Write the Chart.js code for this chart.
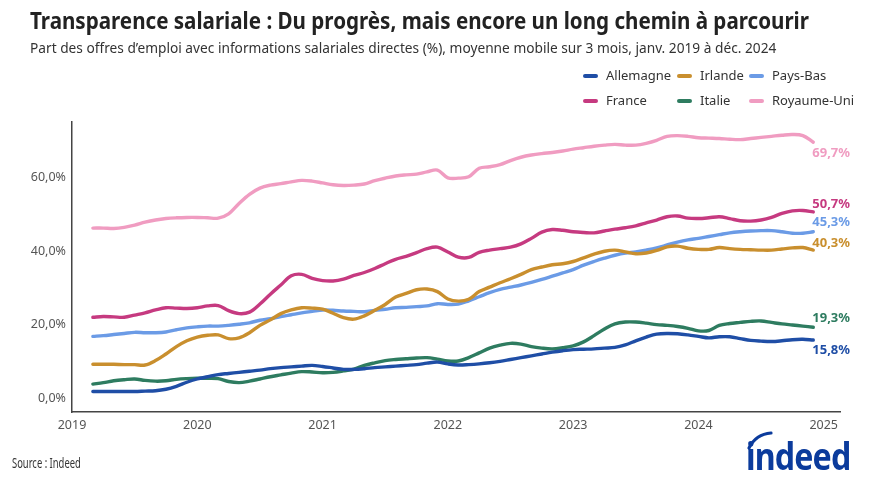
<!DOCTYPE html>
<html>
<head>
<meta charset="utf-8">
<script src="https://cdn.jsdelivr.net/npm/chart.js@4.4.1/dist/chart.umd.min.js"></script>
<style>
html,body{margin:0;padding:0;background:#fff;width:883px;height:494px;overflow:hidden;font-family:"Noto Sans",sans-serif;}
#wrap{position:relative;width:883px;height:494px;}
canvas#c{position:absolute;left:0;top:0;}
.fit{position:absolute;white-space:nowrap;transform-origin:left top;}
#title{left:30px;top:8px;font-size:24px;line-height:24px;font-weight:700;color:#222;}
#sub{left:30px;top:40px;font-size:14.5px;line-height:14.5px;color:#333;}
#source{left:12px;top:456px;font-size:13.5px;line-height:15px;color:#333;}
#logo{left:746px;top:436px;font-size:38px;line-height:38px;font-weight:700;color:#0b3b9c;letter-spacing:-1px;}
.lg{position:absolute;height:16px;line-height:16px;font-size:13px;color:#333;white-space:nowrap;}
.sw{position:absolute;width:15px;height:4px;border-radius:2px;}
#arc{position:absolute;left:740px;top:428px;}
</style>
</head>
<body>
<div id="wrap">
  <canvas id="c" width="883" height="494"></canvas>
  <div id="title" class="fit">Transparence salariale : Du progrès, mais encore un long chemin à parcourir</div>
  <div id="sub" class="fit">Part des offres d’emploi avec informations salariales directes (%), moyenne mobile sur 3 mois, janv. 2019 à déc. 2024</div>
  <div id="source" class="fit">Source : Indeed</div>
  <div id="logo" class="fit">indeed</div>
  <svg id="arc" width="40" height="30"><path d="M9 20 Q 16 6 31 5" stroke="#0b3b9c" stroke-width="3.2" fill="none" stroke-linecap="round"/></svg>
  <div id="legend"></div>
</div>
<script>
// ---- data ----
const months = [
 "2019-03","2019-04","2019-05","2019-06","2019-07","2019-08","2019-09","2019-10","2019-11","2019-12",
 "2020-01","2020-02","2020-03","2020-04","2020-05","2020-06","2020-07","2020-08","2020-09","2020-10","2020-11","2020-12",
 "2021-01","2021-02","2021-03","2021-04","2021-05","2021-06","2021-07","2021-08","2021-09","2021-10","2021-11","2021-12",
 "2022-01","2022-02","2022-03","2022-04","2022-05","2022-06","2022-07","2022-08","2022-09","2022-10","2022-11","2022-12",
 "2023-01","2023-02","2023-03","2023-04","2023-05","2023-06","2023-07","2023-08","2023-09","2023-10","2023-11","2023-12",
 "2024-01","2024-02","2024-03","2024-04","2024-05","2024-06","2024-07","2024-08","2024-09","2024-10","2024-11","2024-12"
];
const seriesNames = ["Allemagne","Irlande","Pays-Bas","France","Italie","Royaume-Uni"];
const allemagne = [1.8,1.8,1.8,1.8,1.8,1.9,2.0,2.4,3.2,4.3,
 5.2,5.8,6.4,6.7,7.0,7.3,7.6,8.0,8.3,8.5,8.7,8.9,
 8.6,8.2,7.8,7.8,8.0,8.3,8.5,8.7,8.9,9.1,9.5,9.8,
 9.3,9.0,9.1,9.3,9.6,10.0,10.5,11.0,11.5,12.0,12.5,12.9,
 13.2,13.3,13.4,13.6,13.8,14.5,15.6,16.6,17.4,17.6,17.5,17.2,
 16.8,16.4,16.7,16.7,16.2,15.7,15.5,15.4,15.6,15.9,16.0,15.8];
const irlande = [9.2,9.2,9.2,9.1,9.1,9.0,10.2,12.0,14.0,15.6,
 16.6,17.1,17.2,16.2,16.4,17.8,19.8,21.3,23.0,24.0,24.6,24.5,
 24.2,23.1,21.9,21.5,22.4,23.9,25.5,27.5,28.5,29.5,29.7,29.0,
 27.0,26.4,26.9,29.0,30.2,31.4,32.5,33.7,35.0,35.7,36.3,36.6,
 37.2,38.2,39.2,40.0,40.3,39.8,39.3,39.5,40.2,41.2,41.4,40.8,
 40.5,40.5,41.0,40.7,40.5,40.4,40.3,40.3,40.6,40.9,41.0,40.3];
const paysBas = [16.8,17.0,17.3,17.6,17.9,17.8,17.8,18.0,18.6,19.1,
 19.4,19.6,19.6,19.8,20.1,20.5,21.2,21.6,22.2,22.7,23.2,23.6,
 24.0,23.9,23.7,23.6,23.5,23.9,24.2,24.6,24.7,24.9,25.1,25.7,
 25.5,25.6,26.5,27.6,28.7,29.6,30.2,30.8,31.5,32.3,33.2,34.1,
 35.0,36.2,37.2,38.1,38.9,39.5,39.8,40.3,40.9,41.7,42.5,43.1,
 43.5,44.0,44.5,45.0,45.3,45.5,45.6,45.6,45.3,44.9,44.9,45.3];
const france = [22.0,22.2,22.1,22.0,22.6,23.2,24.0,24.6,24.5,24.4,
 24.6,25.1,25.2,23.8,23.0,23.4,25.6,28.3,30.8,33.3,33.7,32.6,
 32.0,31.9,32.4,33.4,34.2,35.3,36.6,37.8,38.6,39.6,40.7,41.1,
 39.8,38.4,38.3,39.7,40.3,40.7,41.1,42.0,43.5,45.2,45.9,45.7,
 45.3,45.1,45.0,45.5,46.0,46.4,46.9,47.7,48.5,49.4,49.6,49.0,
 48.9,49.1,49.4,48.9,48.3,48.2,48.5,49.2,50.3,51.0,51.1,50.7];
const italie = [3.8,4.2,4.7,5.0,5.2,4.8,4.6,4.7,5.1,5.3,
 5.4,5.4,5.3,4.5,4.2,4.6,5.2,5.8,6.3,6.8,7.2,7.1,
 6.9,7.0,7.4,7.9,8.9,9.6,10.2,10.5,10.7,10.9,11.0,10.6,
 10.1,10.1,11.0,12.3,13.6,14.4,14.9,14.7,14.0,13.6,13.4,13.7,
 14.2,15.3,17.0,18.8,20.2,20.7,20.7,20.4,20.0,19.8,19.5,19.0,
 18.3,18.4,19.8,20.3,20.6,20.9,21.0,20.6,20.2,19.9,19.6,19.3];
const royaumeUni = [46.3,46.3,46.2,46.5,47.1,47.9,48.5,48.9,49.1,49.2,
 49.2,49.1,49.0,50.2,53.0,55.5,57.2,58.0,58.4,58.9,59.3,59.1,
 58.6,58.1,57.9,58.0,58.3,59.2,59.9,60.5,60.8,61.0,61.6,62.1,
 60.0,59.9,60.3,62.6,63.0,63.6,64.7,65.6,66.2,66.6,66.9,67.3,
 67.8,68.2,68.6,68.9,69.1,68.9,68.9,69.4,70.2,71.3,71.5,71.3,
 70.9,70.8,70.7,70.5,70.4,70.7,71.0,71.3,71.6,71.8,71.5,69.7];
const xTicks = [2019,2020,2021,2022,2023,2024,2025];
const yTicks = [0,20,40,60];

// ---- styles ----
const seriesValues = [allemagne, irlande, paysBas, france, italie, royaumeUni];
const seriesColors = ["#1f4ea6","#c98f2e","#6b9be6","#c63a80","#2e7c60","#f09cc1"];
const labelDy = [10, -7, -9, -8, -9, 11];
const legendCols = [583, 677, 749];
const legendRows = [76, 101];

const fmt = v => v.toFixed(1).replace('.', ',') + '%';
const monthX = months.map(m => { const p = m.split('-').map(Number); return p[0] + (p[1]-1)/12; });

// legend (HTML)
const lg = document.getElementById('legend');
seriesNames.forEach((n, i) => {
  const cx = legendCols[i % 3], cy = legendRows[Math.floor(i / 3)];
  const sw = document.createElement('div'); sw.className = 'sw';
  sw.style.left = cx + 'px'; sw.style.top = (cy - 2) + 'px'; sw.style.background = seriesColors[i];
  const t = document.createElement('div'); t.className = 'lg'; t.textContent = n;
  t.style.left = (cx + 23) + 'px'; t.style.top = (cy - 9) + 'px';
  lg.appendChild(sw); lg.appendChild(t);
});

// fit condensed texts
function fitW(id, w){ const el = document.getElementById(id); const s = w / el.scrollWidth; el.style.transform = 'scaleX(' + s + ')'; }
fitW('title', 779); fitW('sub', 746); fitW('source', 69); fitW('logo', 104);

const endLabels = {
  id: 'endLabels',
  afterDatasetsDraw(chart) {
    const ctx = chart.ctx;
    chart.data.datasets.forEach((ds, i) => {
      const meta = chart.getDatasetMeta(i);
      const pt = meta.data[meta.data.length - 1];
      const v = ds.data[ds.data.length - 1].y;
      ctx.save();
      ctx.font = 'bold 13px "Noto Sans"';
      ctx.fillStyle = ds.borderColor;
      ctx.textAlign = 'left';
      ctx.textBaseline = 'middle';
      ctx.fillText(fmt(v), pt.x - 1, pt.y + labelDy[i]);
      ctx.restore();
    });
  }
};

new Chart(document.getElementById('c'), {
  type: 'line',
  data: {
    datasets: seriesNames.map((n, i) => ({
      label: n,
      data: monthX.map((x, k) => ({ x: x, y: seriesValues[i][k] })),
      borderColor: seriesColors[i],
      backgroundColor: seriesColors[i],
      borderWidth: 3.4,
      pointRadius: 0,
      tension: 0.35,
      borderCapStyle: 'round',
      borderJoinStyle: 'round',
      fill: false
    }))
  },
  options: {
    responsive: false,
    animation: false,
    layout: { padding: { top: 122, right: 43, bottom: 52, left: 0 } },
    plugins: { legend: { display: false }, tooltip: { enabled: false } },
    scales: {
      x: {
        type: 'linear', min: 2019, max: 2025.13,
        afterBuildTicks: s => { s.ticks = xTicks.map(v => ({ value: v })); },
        afterFit: s => { s.height = 30; },
        grid: { display: false, drawTicks: false },
        border: { display: true, color: '#444', width: 1.5 },
        ticks: { padding: 6, color: '#555', font: { family: 'Noto Sans', size: 12.5 }, callback: v => String(v), maxRotation: 0 }
      },
      y: {
        type: 'linear', min: -3.8, max: 75.2,
        afterBuildTicks: s => { s.ticks = yTicks.map(v => ({ value: v })); },
        afterFit: s => { s.width = 72; },
        grid: { display: false, drawTicks: false },
        border: { display: true, color: '#444', width: 1.5 },
        ticks: { padding: 6, color: '#555', font: { family: 'Noto Sans', size: 12.5 }, callback: v => fmt(v) }
      }
    }
  },
  plugins: [endLabels]
});
</script>
</body>
</html>
